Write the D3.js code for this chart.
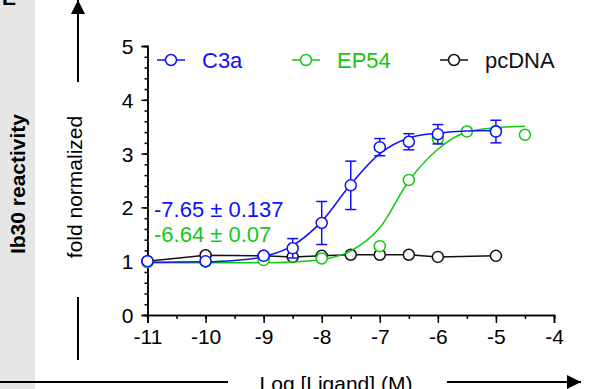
<!DOCTYPE html>
<html>
<head>
<meta charset="utf-8">
<script src="https://cdn.jsdelivr.net/npm/d3@7"></script>
<style>
	body { margin: 0; background: #fff; }
	svg { display: block; font-family: Arial, "Liberation Sans", sans-serif; }
</style>
</head>
<body>
<svg id="chart" width="589" height="389"></svg>
<script>
/*********************************************************\
* Ib30 reactivity - concentration response                *
\*********************************************************/

var xTicks = [-11, -10, -9, -8, -7, -6, -5, -4];
var yTicks = [0, 1, 2, 3, 4, 5];

// C3a
var c3aX = [-11, -10, -9, -8.5, -8, -7.5, -7, -6.5, -6, -5];
var c3aY = [1.0, 1.0, 1.10, 1.24, 1.71, 2.41, 3.12, 3.22, 3.36, 3.41];
var c3aErr = [0, 0, 0, 0.18, 0.40, 0.45, 0.16, 0.15, 0.18, 0.21];
var c3aFitX = [-11, -10.5, -10, -9.5, -9, -8.5, -8, -7.5, -7, -6.5, -6, -5.5, -5];
var c3aFitY = [0.98, 0.985, 0.99, 1.015, 1.085, 1.29, 1.74, 2.43, 3.0, 3.29, 3.38, 3.42, 3.43];

// EP54
var ep54X = [-11, -10, -9, -8, -7, -6.5, -6, -5.5, -5, -4.5];
var ep54Y = [0.98, 0.99, 1.02, 1.05, 1.28, 2.51, 3.28, 3.41, 3.42, 3.35];
var ep54FitX = [-11, -10, -9, -8.5, -8, -7.5, -7, -6.5, -6, -5.5, -5, -4.5];
var ep54FitY = [0.97, 0.97, 0.972, 0.985, 1.03, 1.19, 1.62, 2.49, 3.08, 3.40, 3.48, 3.51];

// pcDNA
var pcX = [-11, -10, -9, -8.5, -8, -7.5, -7, -6.5, -6, -5];
var pcY = [1.0, 1.11, 1.1, 1.08, 1.1, 1.12, 1.12, 1.12, 1.08, 1.1];

var blue = '#1010ff', green = '#14c814', black = '#111';
var font = 21;

var series = [
	{ name: 'pcDNA', color: black, x: pcX, y: pcY, fitX: pcX, fitY: pcY, err: null, curve: d3.curveLinear },
	{ name: 'EP54', color: green, x: ep54X, y: ep54Y, fitX: ep54FitX, fitY: ep54FitY, err: null, curve: d3.curveMonotoneX },
	{ name: 'C3a', color: blue, x: c3aX, y: c3aY, fitX: c3aFitX, fitY: c3aFitY, err: c3aErr, curve: d3.curveMonotoneX }
];
var legendItems = [
	{ name: 'C3a', color: blue, lx: 157, tx: 202 },
	{ name: 'EP54', color: green, lx: 292, tx: 337 },
	{ name: 'pcDNA', color: black, lx: 440, tx: 485 }
];
var fitLabels = [
	{ text: '-7.65 \u00b1 0.137', color: blue },
	{ text: '-6.64 \u00b1 0.07', color: green }
];

//- - - - - - - - - - - - - - - - - - - - - - - - - - - - - - - - - - - - - - -

var svg = d3.select('#chart');
var x = d3.scaleLinear().domain([-11, -4]).range([147.5, 554]);
var y = d3.scaleLinear().domain([0, 5]).range([315, 46]);

// grey side panel
svg.append('rect').attr('x', 0).attr('y', 0).attr('width', 35).attr('height', 389).attr('fill', '#e6e6e6');
svg.append('text').attr('x', 2).attr('y', 5).attr('font-size', font).attr('font-weight', 'bold').text('E');
svg.append('text')
	.attr('transform', 'translate(25,184) rotate(-90)')
	.attr('text-anchor', 'middle').attr('font-size', font).attr('font-weight', 'bold')
	.text('Ib30 reactivity');

// arrow markers
var defs = svg.append('defs');
defs.append('marker').attr('id', 'arrow')
	.attr('viewBox', '0 0 10 10').attr('refX', 10).attr('refY', 5)
	.attr('markerUnits', 'userSpaceOnUse').attr('markerWidth', 15).attr('markerHeight', 14)
	.attr('orient', 'auto')
	.append('path').attr('d', 'M0,0L10,5L0,10Z').attr('fill', '#000');

// y label with arrow
svg.append('text')
	.attr('transform', 'translate(82,187) rotate(-90)')
	.attr('text-anchor', 'middle').attr('font-size', font)
	.text('fold normalized');
svg.append('line').attr('x1', 78).attr('x2', 78).attr('y1', 82).attr('y2', 0)
	.attr('stroke', '#000').attr('stroke-width', 2).attr('marker-end', 'url(#arrow)');
svg.append('line').attr('x1', 78).attr('x2', 78).attr('y1', 297).attr('y2', 360)
	.attr('stroke', '#000').attr('stroke-width', 2);

// x label with arrow
svg.append('text').attr('x', 336).attr('y', 391)
	.attr('text-anchor', 'middle').attr('font-size', font)
	.text('Log [Ligand] (M)');
svg.append('line').attr('x1', 0).attr('x2', 228).attr('y1', 382).attr('y2', 382)
	.attr('stroke', '#000').attr('stroke-width', 2);
svg.append('line').attr('x1', 447).attr('x2', 581).attr('y1', 382).attr('y2', 382)
	.attr('stroke', '#000').attr('stroke-width', 2).attr('marker-end', 'url(#arrow)');

//- - - - - - - - - - - - - - - - - - - - - - - - - - - - - - - - - - - - - - -
// axes

var minorY = d3.range(0, 5.01, 0.2);
var minorX = d3.range(-11, -3.99, 0.5);

svg.append('g').attr('transform', 'translate(' + x.range()[0] + ',0)')
	.call(d3.axisLeft(y).tickValues(minorY).tickSize(3).tickFormat(''));
svg.append('g').attr('class', 'yaxis').attr('transform', 'translate(' + x.range()[0] + ',0)')
	.call(d3.axisLeft(y).tickValues(yTicks).tickSize(6).tickPadding(8).tickFormat(d3.format('d')));
svg.append('g').attr('transform', 'translate(0,' + y(0) + ')')
	.call(d3.axisBottom(x).tickValues(minorX).tickSize(4).tickFormat(''));
svg.append('g').attr('class', 'xaxis').attr('transform', 'translate(0,' + y(0) + ')')
	.call(d3.axisBottom(x).tickValues(xTicks).tickSize(8).tickPadding(6).tickFormat(d3.format('d')));

svg.selectAll('.domain').attr('stroke', '#000').attr('stroke-width', 1.5);
svg.selectAll('.tick line').attr('stroke', '#000').attr('stroke-width', 1.5);
svg.selectAll('.xaxis .tick text, .yaxis .tick text')
	.attr('font-size', font).attr('fill', '#000')
	.attr('font-family', 'Arial, "Liberation Sans", sans-serif');
svg.selectAll('.xaxis .tick text').text(function (d) { return d3.format('d')(d).replace('\u2212', '-'); });
svg.selectAll('.yaxis .tick text').attr('dy', '0.36em');

//- - - - - - - - - - - - - - - - - - - - - - - - - - - - - - - - - - - - - - -
// series

var line = d3.line();

series.forEach(function (s)
{
	var g = svg.append('g');
	var fit = s.fitX.map(function (d, i) { return [x(d), y(s.fitY[i])]; });

	g.append('path')
		.attr('d', line.curve(s.curve)(fit))
		.attr('fill', 'none').attr('stroke', s.color).attr('stroke-width', 1.5);

	if (s.err)
	{
		var bars = g.selectAll('g.err')
			.data(s.x.map(function (d, i) { return { x: d, y: s.y[i], e: s.err[i] }; })
				.filter(function (d) { return d.e > 0; }))
			.enter().append('g').attr('class', 'err')
			.attr('stroke', s.color).attr('stroke-width', 1.5);
		bars.append('line')
			.attr('x1', function (d) { return x(d.x); }).attr('x2', function (d) { return x(d.x); })
			.attr('y1', function (d) { return y(d.y - d.e); }).attr('y2', function (d) { return y(d.y + d.e); });
		[-1, 1].forEach(function (sign)
		{
			bars.append('line')
				.attr('x1', function (d) { return x(d.x) - 5.5; }).attr('x2', function (d) { return x(d.x) + 5.5; })
				.attr('y1', function (d) { return y(d.y + sign * d.e); })
				.attr('y2', function (d) { return y(d.y + sign * d.e); });
		});
	}

	g.selectAll('circle')
		.data(s.x.map(function (d, i) { return [d, s.y[i]]; }))
		.enter().append('circle')
		.attr('cx', function (d) { return x(d[0]); })
		.attr('cy', function (d) { return y(d[1]); })
		.attr('r', 5.5)
		.attr('fill', '#fff').attr('stroke', s.color).attr('stroke-width', 1.5);
});

//- - - - - - - - - - - - - - - - - - - - - - - - - - - - - - - - - - - - - - -
// legend and fit labels

var legend = svg.selectAll('g.legend').data(legendItems).enter()
	.append('g').attr('class', 'legend');
legend.append('line')
	.attr('x1', function (d) { return d.lx; }).attr('x2', function (d) { return d.lx + 28; })
	.attr('y1', 60).attr('y2', 60)
	.attr('stroke', function (d) { return d.color; }).attr('stroke-width', 1.5);
legend.append('circle')
	.attr('cx', function (d) { return d.lx + 14; }).attr('cy', 60).attr('r', 5.5)
	.attr('fill', '#fff').attr('stroke', function (d) { return d.color; }).attr('stroke-width', 1.5);
legend.append('text')
	.attr('x', function (d) { return d.tx; }).attr('y', 68)
	.attr('font-size', 22).attr('fill', function (d) { return d.color; })
	.text(function (d) { return d.name; });

svg.selectAll('text.fit').data(fitLabels).enter()
	.append('text').attr('class', 'fit')
	.attr('x', 154).attr('y', function (d, i) { return 217 + i * 25; })
	.attr('font-size', 22).attr('fill', function (d) { return d.color; })
	.text(function (d) { return d.text; });
</script>
</body>
</html>
